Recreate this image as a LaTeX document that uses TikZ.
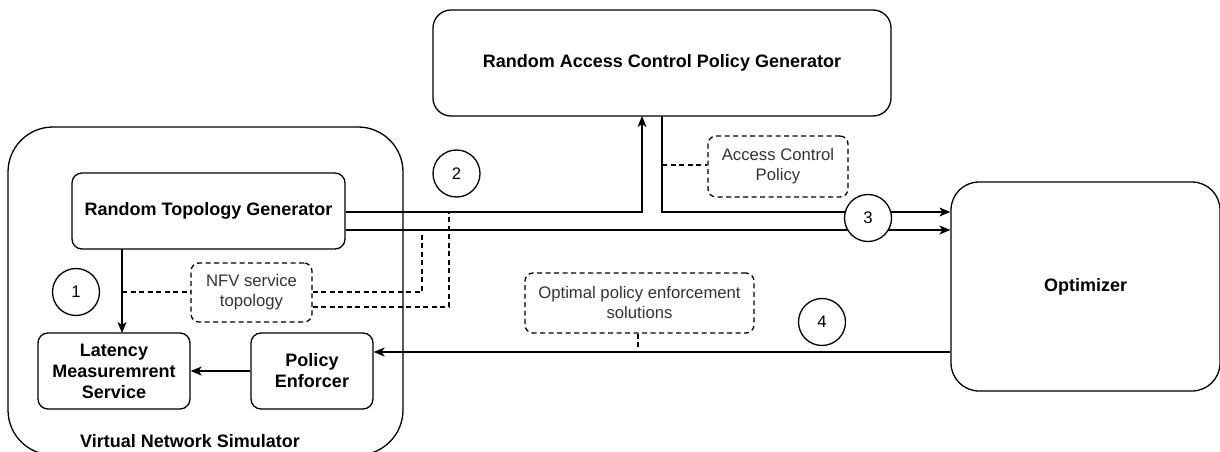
\documentclass[tikz,border=0pt]{standalone}
\usepackage{fontspec}
\setmainfont{Liberation Sans}
\usetikzlibrary{arrows.meta,calc}
\begin{document}
\begin{tikzpicture}[x=1pt,y=-1pt,
  lw/.style={line width=1.3pt},
  box/.style={lw,draw,fill=white,rounded corners=10pt,align=center,inner sep=0pt,
    font=\fontsize{18}{21}\selectfont\bfseries},
  dbox/.style={lw,draw,fill=white,rounded corners=8pt,align=center,inner sep=0pt,
    dash pattern=on 5pt off 3.5pt,text=black!80,font=\fontsize{16.7}{20}\selectfont},
  num/.style={lw,draw,fill=white,circle,minimum size=47pt,inner sep=0pt,
    font=\fontsize{16.7}{20}\selectfont},
  conn/.style={lw,draw},
  arr/.style={lw,draw,-{Stealth[length=11pt,width=9pt,inset=3pt]}},
  dconn/.style={lw,draw,dash pattern=on 5pt off 3.5pt},
]
\useasboundingbox (0,0) rectangle (1220,452);
\clip (0,0) rectangle (1220,452);

% container
\draw[lw,rounded corners=45pt] (8,127) rectangle (403,455);
\node[font=\fontsize{18}{21}\selectfont\bfseries] (vnslabel) at (190,441) {Virtual Network Simulator};

% boxes
\node[box,minimum width=273pt,minimum height=76pt] (rtg) at (208.5,211) {Random Topology Generator};
\node[box,minimum width=152pt,minimum height=76pt] (lms) at (114,371) {Latency\\Measuremrent\\Service};
\node[box,minimum width=122pt,minimum height=76pt] (pe) at (312,371) {Policy\\Enforcer};
\node[box,rounded corners=18pt,minimum width=458pt,minimum height=106pt] (racpg) at (662,63) {Random Access Control Policy Generator};
\node[box,rounded corners=28pt,minimum width=269pt,minimum height=209pt] (opt) at (1085.5,286.5) {Optimizer};

% dashed labels
\node[dbox,minimum width=121pt,minimum height=59pt] (nfv) at (251.5,292.5) {NFV service\\topology};
\node[dbox,minimum width=140pt,minimum height=61pt] (acp) at (778,166.5) {Access Control\\Policy};
\node[dbox,minimum width=229pt,minimum height=60pt] (opes) at (639.5,303) {Optimal policy enforcement\\solutions};

% coordinates
\coordinate (rtgU) at (rtg.east |- 0,212);
\coordinate (rtgL) at (rtg.east |- 0,230);
\coordinate (racIn) at (642,116);
\coordinate (racOut) at (662,116);
\coordinate (optU) at (opt.west |- 0,212);
\coordinate (optL) at (opt.west |- 0,230);
\coordinate (optB) at (opt.west |- 0,352);
\coordinate (peIn) at (pe.east |- 0,352);
\coordinate (rtgB) at (122,249);
\coordinate (lmsT) at (122,333);

% connectors
\draw[arr] (rtgU) -| (racIn);
\draw[arr] (rtgL) -- (optL);
\draw[arr] (racOut) |- (optU);
\draw[arr] (optB) -- (peIn);
\draw[arr] (rtgB) -- (lmsT);
\draw[arr] (pe.west) -- (lms.east);

% dashed connectors
\coordinate (d1) at (122,292);
\draw[dconn] (d1) -- (nfv.west |- d1);
\coordinate (d2) at (nfv.east |- 0,292);
\coordinate (d3) at (422,230);
\draw[dconn] (d2) -| (d3);
\coordinate (d4) at (nfv.east |- 0,307);
\coordinate (d5) at (449,212);
\draw[dconn] (d4) -| (d5);
\coordinate (d6) at (662,165);
\draw[dconn] (d6) -- (acp.west |- d6);
\coordinate (d7) at (638,352);
\draw[dconn] (opes.south -| d7) -- (d7);

% numbers
\node[num] (c1) at (76,292) {1};
\node[num] (c2) at (456.5,173.5) {2};
\node[num] (c3) at (868,218) {3};
\node[num] (c4) at (822,322) {4};
\end{tikzpicture}
\end{document}
